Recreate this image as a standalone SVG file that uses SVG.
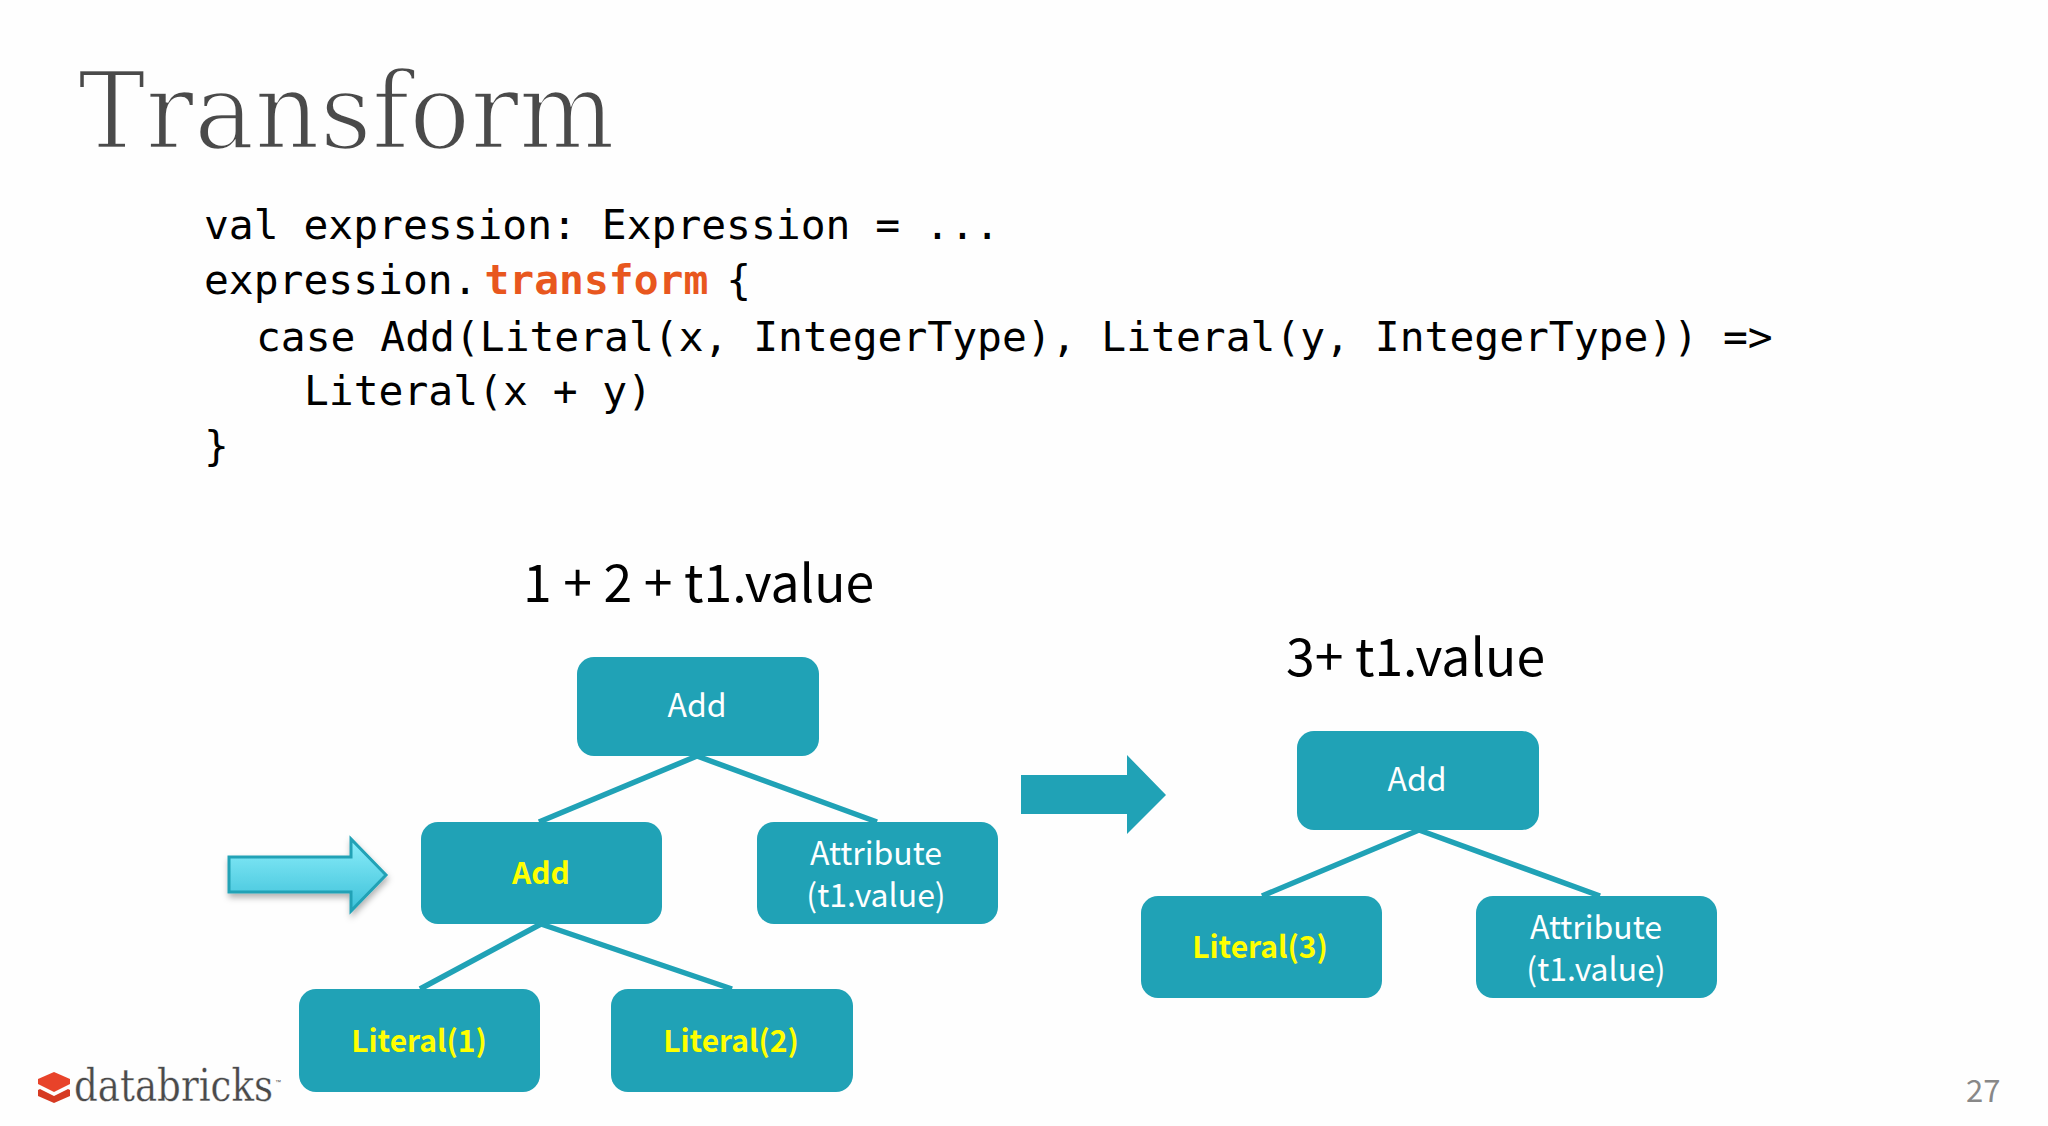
<svg xmlns="http://www.w3.org/2000/svg" width="2048" height="1126" viewBox="0 0 2048 1126">
<style>
.n{fill:#20a2b6}
.t{font-family:"Noto Sans CJK SC","Noto Sans",sans-serif;font-size:32px;text-anchor:middle;fill:#fff}
.y{fill:#ffff00;font-weight:700;font-size:30px}
.c{font-family:"DejaVu Sans Mono","Liberation Mono",monospace;font-size:41.3px;fill:#000;white-space:pre}
.h{font-family:"Noto Sans CJK SC","Noto Sans",sans-serif;font-size:51.7px;fill:#000}
.l{stroke:#20a2b6;stroke-width:5.5;fill:none}
</style>
<defs>
<linearGradient id="cy" x1="0" y1="0" x2="0" y2="1"><stop offset="0" stop-color="#8beefb"/><stop offset="1" stop-color="#3cc0d8"/></linearGradient>
<filter id="sh" x="-10%" y="-10%" width="125%" height="130%"><feDropShadow dx="1" dy="4" stdDeviation="3" flood-color="#000" flood-opacity=".3"/></filter>
</defs>
<rect width="2048" height="1126" fill="#fefefe"/>
<text x="78" y="148" font-family="DejaVu Serif,serif" font-size="107" fill="#4a4a4a" stroke="#fefefe" stroke-width="2.6" textLength="537" lengthAdjust="spacingAndGlyphs">Transform</text>
<g id="code">
<text class="c" x="204" y="239">val expression: Expression = ...</text>
<text class="c" x="204" y="294">expression.<tspan dx="7" fill="#e8571e" font-weight="700">transform</tspan><tspan font-size="30"> </tspan>{</text>
<text class="c" x="256" y="351">case Add(Literal(x, IntegerType), Literal(y, IntegerType)) =&gt;</text>
<text class="c" x="304" y="405">Literal(x + y)</text>
<text class="c" x="204" y="460">}</text>
</g>
<text class="h" x="523" y="602">1 + 2 + t1.value</text>
<text class="h" x="1286" y="676">3+ t1.value</text>
<g id="connectors">
<path class="l" d="M697 756L539 822M697 756L877 822M541 924L420 989M541 924L732 989M1419 830L1262 896M1419 830L1600 896"/>
</g>
<g id="arrow-highlight"><path d="M229 857H351V839L386 875L351 911V892H229Z" fill="url(#cy)" stroke="#20a2b6" stroke-width="3" filter="url(#sh)"/></g>
<g id="arrow-transform"><path d="M1021 775H1127V755L1166 795L1127 834V814H1021Z" fill="#20a2b6"/></g>
<g id="add-top"><rect class="n" x="577" y="657" width="242" height="99" rx="17"/><text class="t" x="697" y="717">Add</text></g>
<g id="add-left"><rect class="n" x="421" y="822" width="241" height="102" rx="17"/><text class="t y" x="541" y="884">Add</text></g>
<g id="attr-left"><rect class="n" x="757" y="822" width="241" height="102" rx="17"/><text class="t" x="876" y="865">Attribute</text><text class="t" x="876" y="907">(t1.value)</text></g>
<g id="lit1"><rect class="n" x="299" y="989" width="241" height="103" rx="17"/><text class="t y" x="419" y="1052">Literal(1)</text></g>
<g id="lit2"><rect class="n" x="611" y="989" width="242" height="103" rx="17"/><text class="t y" x="731" y="1052">Literal(2)</text></g>
<g id="add-right"><rect class="n" x="1297" y="731" width="242" height="99" rx="17"/><text class="t" x="1417" y="791">Add</text></g>
<g id="lit3"><rect class="n" x="1141" y="896" width="241" height="102" rx="17"/><text class="t y" x="1260" y="958">Literal(3)</text></g>
<g id="attr-right"><rect class="n" x="1476" y="896" width="241" height="102" rx="17"/><text class="t" x="1596" y="939">Attribute</text><text class="t" x="1596" y="981">(t1.value)</text></g>
<g id="logo">
<path d="M38 1079L54 1072L70 1079V1084L54 1092L38 1084Z" fill="#e8432a"/>
<path d="M38 1090L40 1089L54 1096L68 1089L70 1090V1096L54 1103L38 1096Z" fill="#d63a22"/>
<text x="74" y="1101" font-family="DejaVu Serif,serif" font-size="45" fill="#4a4a4a" stroke="#fefefe" stroke-width=".3" textLength="199" lengthAdjust="spacingAndGlyphs">databricks</text>
<text x="275" y="1084" font-family="Liberation Sans,sans-serif" font-size="6" fill="#4a4a4a">™</text>
</g>
<text x="1966" y="1102" font-family="Noto Sans CJK SC,Noto Sans,sans-serif" font-size="31" fill="#888">27</text>
</svg>
